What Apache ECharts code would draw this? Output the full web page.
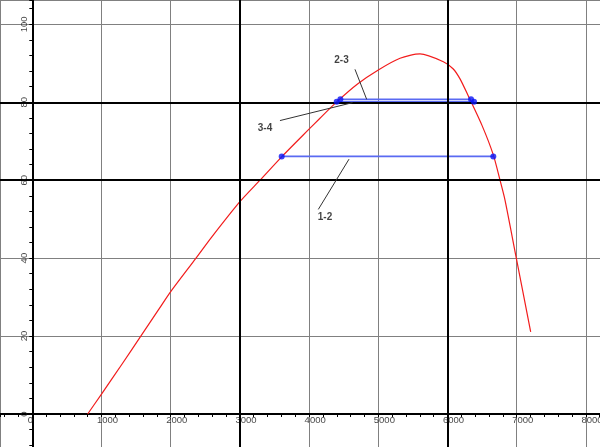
<!DOCTYPE html>
<html>
<head>
<meta charset="utf-8">
<style>html,body{margin:0;padding:0;background:#fff}#c{width:600px;height:447px}</style>
<script src="https://cdn.jsdelivr.net/npm/echarts@6/dist/echarts.min.js"></script>
</head>
<body>
<div id="c"></div>
<script>
// Red curve (x, y)
const curveX = [800, 1000, 1300, 1580, 1822, 2000, 2366, 2592, 3000, 3290, 3604, 3988, 4157, 4399, 4700, 5000, 5314, 5603, 5940, 6080, 6181, 6301, 6500, 6662, 6759, 6831, 6990, 7202];
const curveY = [0, 5.1, 12.9, 20.3, 26.7, 31.4, 40, 45.4, 54.5, 60, 66, 72.9, 75.9, 80.1, 84.7, 88.3, 91.3, 92.4, 90.4, 88.6, 86.0, 81.6, 74.0, 66.5, 60, 54.9, 40.4, 21.1];

// Blue process lines
const line12X = [3604, 6662];
const line12Y = [66.1, 66.1];
const line23X = [4452, 6340];
const line23Y = [80.75, 80.75];
const line34X = [4399, 6383];
const line34Y = [80.1, 80.1];

// State points
const pointsX = [3604, 6662, 4452, 6340, 4399, 6383];
const pointsY = [66.1, 66.1, 80.75, 80.75, 80.1, 80.1];

// Annotation pointers
const ptr23X = [4663, 4832];
const ptr23Y = [88.45, 80.75];
const ptr34X = [3579, 4627];
const ptr34Y = [75.3, 79.9];
const ptr12X = [4133, 4577];
const ptr12Y = [52.5, 65.4];

// Annotation labels
const labelNames = ['2-3', '3-4', '1-2'];
const labelX = [4468, 3363, 4230];
const labelY = [90.75, 73.3, 50.6];

// Tick labels
const xTickLabels = [0, 1000, 2000, 3000, 4000, 5000, 6000, 7000, 8000];
const yTickLabels = [0, 20, 40, 60, 80, 100];

// Emphasized grid lines
const thickGridX = [3000, 6000];
const thickGridY = [60, 80];

// Axis view range (the plot fills the whole picture)
const xRange = [-466.8, 8203.8];
const yRange = [-8.47, 106.24];
const xStep = 1000;
const yStep = 20;

const zip = (xs, ys) => xs.map((x, i) => [x, ys[i]]);

const chart = echarts.init(document.getElementById('c'), null, {renderer: 'canvas'});

const ptrStyle = {color: '#333', width: 1};
const blueStyle = {color: '#5a6af2', width: 1.6};
const tickFont = {fontFamily: 'Liberation Sans', fontSize: 9.5, color: '#111'};
const yLabelColumn = -120; // x value of the rotated y tick label column, left of the y axis

const option = {
  animation: false,
  backgroundColor: '#fff',
  grid: {left: 0, right: 0, top: 0, bottom: 0, containLabel: false},
  xAxis: {
    type: 'value', min: xRange[0], max: xRange[1], minInterval: xStep, maxInterval: xStep, splitNumber: 9,
    axisLine: {onZero: true, lineStyle: {color: '#000', width: 2}},
    axisTick: {show: true, length: 3, lineStyle: {color: '#000'}},
    minorTick: {show: true, splitNumber: 5, length: 3, lineStyle: {color: '#000'}},
    splitLine: {show: true, lineStyle: {color: '#808080', width: 1}},
    axisLabel: {show: false}
  },
  yAxis: {
    type: 'value', min: yRange[0], max: yRange[1], minInterval: yStep, maxInterval: yStep, splitNumber: 6,
    axisLine: {onZero: true, lineStyle: {color: '#000', width: 2}},
    axisTick: {show: true, length: 3, lineStyle: {color: '#000'}},
    minorTick: {show: true, splitNumber: 5, length: 3, lineStyle: {color: '#000'}},
    splitLine: {show: true, lineStyle: {color: '#808080', width: 1}},
    axisLabel: {show: false}
  },
  series: [
    {
      type: 'line', data: [], z: 1, silent: true,
      markLine: {
        silent: true, symbol: 'none', animation: false,
        label: {show: false},
        lineStyle: {color: '#000', width: 2, type: 'solid'},
        data: thickGridX.map(v => ({xAxis: v})).concat(thickGridY.map(v => ({yAxis: v})))
      }
    },
    {
      type: 'line', data: zip(curveX, curveY), showSymbol: false, smooth: 0.25, z: 3,
      lineStyle: {color: '#f21c1c', width: 1.2}
    },
    {type: 'line', data: zip(line12X, line12Y), showSymbol: false, z: 4, lineStyle: blueStyle},
    {type: 'line', data: zip(line23X, line23Y), showSymbol: false, z: 4, lineStyle: blueStyle},
    {type: 'line', data: zip(line34X, line34Y), showSymbol: false, z: 4, lineStyle: blueStyle},
    {type: 'line', data: zip(ptr23X, ptr23Y), showSymbol: false, z: 5, lineStyle: ptrStyle},
    {type: 'line', data: zip(ptr34X, ptr34Y), showSymbol: false, z: 5, lineStyle: ptrStyle},
    {type: 'line', data: zip(ptr12X, ptr12Y), showSymbol: false, z: 5, lineStyle: ptrStyle},
    {
      type: 'scatter', data: zip(pointsX, pointsY), symbolSize: 6, z: 6,
      itemStyle: {color: '#0a14f5'}
    },
    {
      type: 'scatter', z: 7, symbolSize: 0, silent: true,
      data: labelNames.map((n, i) => ({name: n, value: [labelX[i], labelY[i]]})),
      label: {
        show: true, position: 'inside', formatter: p => p.name,
        fontFamily: 'Liberation Sans', fontSize: 10, fontWeight: 'bold', color: '#111'
      }
    },
    {
      // x-axis tick labels
      type: 'scatter', z: 8, zlevel: 1, symbolSize: 0, silent: true, clip: false,
      data: xTickLabels.map(v => ({name: String(v), value: [v, 0]})),
      label: Object.assign({
        show: true, position: 'inside', formatter: p => p.name,
        align: 'left', verticalAlign: 'top', offset: [-4.5, 1.5]
      }, tickFont)
    },
    {
      // y-axis tick labels (rotated)
      type: 'scatter', z: 7, symbolSize: 0, silent: true, clip: false,
      data: yTickLabels.map(v => ({name: String(v), value: [yLabelColumn, v]})),
      label: Object.assign({
        show: true, position: 'inside', formatter: p => p.name,
        align: 'center', verticalAlign: 'middle', rotate: 90
      }, tickFont)
    }
  ]
};
chart.setOption(option);
</script>
</body>
</html>
